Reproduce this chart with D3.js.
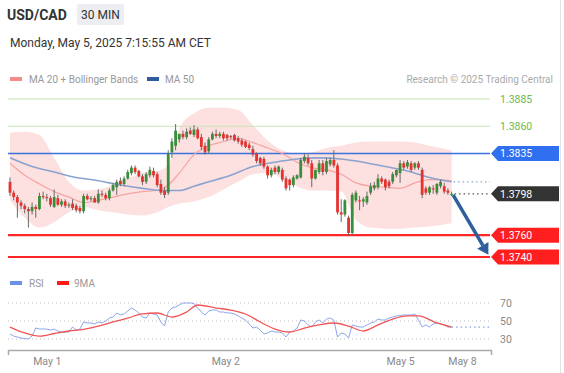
<!DOCTYPE html>
<html>
<head>
<meta charset="utf-8">
<script src="https://cdn.jsdelivr.net/npm/d3@7"></script>
<style>
  body { margin: 0; background: #fff; font-family: Roboto, Arial, sans-serif; }
</style>
</head>
<body>
<div id="chart"></div>
<script>
// 30 min candles, Apr 30 19:00 CET -> May 5 07:00 CET
let open = [
  1.3809,1.3799,1.3795,1.3790,1.3787,1.3784,1.3782,1.3786,1.3784,1.3796,
  1.3795,1.3794,1.3786,1.3794,1.3788,1.3791,1.3787,1.3789,1.3787,1.3785,
  1.3782,1.3796,1.3793,1.3794,1.3790,1.3798,1.3797,1.3794,1.3801,1.3804,
  1.3810,1.3807,1.3812,1.3817,1.3822,1.3819,1.3814,1.3809,1.3815,1.3819,
  1.3816,1.3807,1.3801,1.3799,1.3836,1.3842,1.3848,1.3853,1.3850,1.3856,
  1.3852,1.3857,1.3850,1.3842,1.3837,1.3848,1.3853,1.3851,1.3853,1.3852,
  1.3851,1.3852,1.3849,1.3847,1.3846,1.3843,1.3839,1.3835,1.3831,1.3830,
  1.3823,1.3815,1.3822,1.3818,1.3820,1.3812,1.3811,1.3806,1.3812,1.3813,
  1.3828,1.3831,1.3826,1.3812,1.3818,1.3826,1.3818,1.3825,1.3829,1.3824,
  1.3781,1.3779,1.3776,1.3762,1.3792,1.3792,1.3791,1.3790,1.3799,1.3803,
  1.3804,1.3812,1.3811,1.3809,1.3809,1.3815,1.3817,1.3826,1.3823,1.3826,
  1.3822,1.3826,1.3820,1.3803,1.3799,1.3803,1.3799,1.3805,1.3805,1.3801,
  1.3797]
let high = [
  1.3813,1.3801,1.3797,1.3792,1.3789,1.3786,1.3790,1.3788,1.3799,1.3800,
  1.3798,1.3796,1.3802,1.3797,1.3793,1.3793,1.3790,1.3793,1.3789,1.3787,
  1.3798,1.3798,1.3796,1.3796,1.3802,1.3801,1.3799,1.3803,1.3808,1.3811,
  1.3813,1.3814,1.3820,1.3824,1.3824,1.3820,1.3816,1.3818,1.3823,1.3822,
  1.3818,1.3811,1.3804,1.3838,1.3849,1.3862,1.3853,1.3856,1.3858,1.3859,
  1.3861,1.3859,1.3853,1.3845,1.3850,1.3855,1.3857,1.3855,1.3855,1.3853,
  1.3852,1.3853,1.3851,1.3849,1.3847,1.3845,1.3842,1.3836,1.3832,1.3832,
  1.3824,1.3822,1.3824,1.3824,1.3822,1.3814,1.3812,1.3815,1.3816,1.3831,
  1.3835,1.3834,1.3829,1.3820,1.3829,1.3829,1.3831,1.3831,1.3838,1.3826,
  1.3793,1.3793,1.3778,1.3799,1.3801,1.3796,1.3795,1.3800,1.3808,1.3809,
  1.3816,1.3814,1.3812,1.3811,1.3818,1.3820,1.3829,1.3828,1.3829,1.3828,
  1.3827,1.3828,1.3822,1.3805,1.3805,1.3806,1.3808,1.3811,1.3808,1.3803,
  1.3800]
let low = [
  1.3796,1.3792,1.3776,1.3784,1.3780,1.3767,1.3779,1.3776,1.3783,1.3793,
  1.3791,1.3786,1.3785,1.3787,1.3786,1.3785,1.3785,1.3783,1.3781,1.3780,
  1.3780,1.3792,1.3791,1.3790,1.3789,1.3795,1.3792,1.3792,1.3800,1.3797,
  1.3805,1.3805,1.3811,1.3815,1.3816,1.3813,1.3806,1.3807,1.3813,1.3813,
  1.3804,1.3797,1.3794,1.3797,1.3831,1.3838,1.3845,1.3848,1.3848,1.3852,
  1.3850,1.3848,1.3838,1.3834,1.3835,1.3847,1.3849,1.3849,1.3847,1.3847,
  1.3848,1.3846,1.3844,1.3841,1.3840,1.3838,1.3832,1.3826,1.3824,1.3821,
  1.3812,1.3813,1.3816,1.3816,1.3809,1.3801,1.3801,1.3804,1.3811,1.3812,
  1.3826,1.3824,1.3804,1.3811,1.3816,1.3815,1.3816,1.3823,1.3822,1.3779,
  1.3772,1.3777,1.3760,1.3760,1.3790,1.3783,1.3786,1.3788,1.3797,1.3801,
  1.3802,1.3807,1.3801,1.3803,1.3807,1.3813,1.3808,1.3820,1.3821,1.3818,
  1.3820,1.3820,1.3794,1.3797,1.3797,1.3798,1.3797,1.3803,1.3798,1.3797,
  1.3796]
let close = [
  1.3799,1.3795,1.3790,1.3787,1.3784,1.3782,1.3786,1.3784,1.3796,1.3795,
  1.3794,1.3788,1.3795,1.3788,1.3791,1.3787,1.3788,1.3785,1.3783,1.3782,
  1.3796,1.3793,1.3794,1.3790,1.3798,1.3797,1.3794,1.3801,1.3806,1.3809,
  1.3807,1.3812,1.3818,1.3822,1.3818,1.3814,1.3809,1.3816,1.3820,1.3815,
  1.3806,1.3799,1.3797,1.3835,1.3846,1.3856,1.3853,1.3850,1.3855,1.3853,
  1.3857,1.3849,1.3841,1.3836,1.3848,1.3853,1.3851,1.3853,1.3849,1.3849,
  1.3850,1.3847,1.3846,1.3843,1.3841,1.3840,1.3834,1.3828,1.3826,1.3823,
  1.3815,1.3820,1.3818,1.3823,1.3811,1.3803,1.3806,1.3813,1.3815,1.3829,
  1.3832,1.3826,1.3812,1.3820,1.3826,1.3818,1.3828,1.3829,1.3824,1.3781,
  1.3779,1.3792,1.3762,1.3797,1.3799,1.3791,1.3793,1.3796,1.3805,1.3806,
  1.3812,1.3809,1.3804,1.3805,1.3816,1.3820,1.3826,1.3822,1.3827,1.3820,
  1.3826,1.3822,1.3797,1.3799,1.3804,1.3802,1.3807,1.3809,1.3800,1.3799,
  1.3798]

// MA 20 + Bollinger Bands (read at sampled candles)
let bandIdx = [0,4,8,12,16,20,24,28,32,36,40,43,46,50,54,58,62,66,70,74,78,82,86,90,94,98,102,106,110,114,120]
let bandUpper = [1.3854,1.3855,1.3852,1.3831,1.3809,1.3801,1.3802,1.3806,1.3812,1.3817,1.3819,1.3824,1.3858,1.3872,1.3877,1.3877,
  1.3875,1.3861,1.3847,1.3838,1.3835,1.3836,1.3840,1.3842,1.3845,1.3846,1.3846,1.3846,1.3845,1.3842,1.3838]
let bandLower = [1.3792,1.3776,1.3767,1.3772,1.3781,1.3786,1.3783,1.3781,1.3779,1.3778,1.3781,1.3786,1.3789,1.3791,1.3795,1.3802,
  1.3809,1.3816,1.3817,1.3812,1.3805,1.3801,1.3801,1.3800,1.3774,1.3767,1.3766,1.3766,1.3767,1.3768,1.3771]
let ma20 = [1.3826,1.3815,1.3807,1.3800,1.3795,1.3790,1.3792,1.3795,1.3798,1.3800,1.3801,1.3806,1.3817,1.3834,1.3842,1.3846,
  1.3849,1.3845,1.3840,1.3835,1.3827,1.3822,1.3820,1.3816,1.3808,1.3805,1.3804,1.3803,1.3808,1.3811,1.3810]

// MA 50
let ma50Idx = [0,6,12,18,24,30,36,42,46,50,54,60,66,72,78,84,90,96,102,108,114,120]
let ma50 = [1.3831,1.3823,1.3818,1.3813,1.3810,1.3806,1.3803,1.3801,1.3801,1.3805,1.3809,1.3815,1.3823,1.3827,1.3830,1.3831,
  1.3830,1.3827,1.3823,1.3819,1.3813,1.3809]

// key levels
let levelVals = [1.3885, 1.3860, 1.3835, 1.3798, 1.3760, 1.3740]
let levelKind = ['target', 'target', 'pivot', 'last', 'support', 'support']

// RSI and its 9 period MA
let rsi = [
  35.6,33.3,32.2,31.1,30.6,30.0,33.3,42.2,41.1,41.1,
  41.0,40.0,41.0,38.9,37.8,37.8,37.8,43.3,40.0,41.0,
  48.9,47.8,47.8,46.7,48.9,47.8,50.0,53.3,54.4,58.9,
  56.7,57.8,61.1,64.4,62.2,58.9,54.4,53.3,58.9,57.8,
  56.7,48.9,44.4,60.0,64.4,65.6,67.8,70.0,70.0,70.0,
  69.4,64.4,60.0,56.7,61.1,62.2,62.2,60.0,60.0,58.9,
  58.9,57.8,55.6,53.3,51.1,46.7,42.2,43.3,40.0,35.6,
  36.7,38.9,37.8,37.8,36.7,32.2,37.8,38.9,42.2,51.1,
  50.0,45.6,43.3,48.9,51.1,47.8,52.2,53.3,51.1,32.2,
  36.7,35.6,31.1,45.6,44.4,43.3,43.3,45.6,47.8,48.9,
  52.2,51.1,51.1,53.3,54.4,55.6,56.1,56.7,56.7,56.7,
  57.8,51.1,43.3,45.6,43.3,46.7,47.8,46.7,45.6,43.3,
  43.3]
let rsiMaIdx = [0,4,8,12,16,20,24,28,32,36,40,44,48,51,56,60,64,68,72,76,80,84,88,92,96,100,104,108,111,116,120]
let rsiMa = [43.3,36.7,33.3,36.1,38.9,40.6,44.4,48.9,53.3,57.8,58.9,54.4,60.0,67.8,64.4,62.2,57.8,48.9,41.1,37.8,42.2,
  45.6,47.8,44.4,38.9,45.6,52.2,55.6,55.6,47.8,43.3]
let rsiLevels = [70, 50, 30]

// time axis
let tickIdx = [10, 58.5, 106, 122.8]
let tickLabels = ['May 1', 'May 2', 'May 5', 'May 8']

// projected move (candle index, price)
let arrowFrom = [120.4, 1.3797]
let arrowTo = [130, 1.3742]

let width = 564, height = 373
let plotL = 8, plotR = 490

let svg = d3.select('#chart').append('svg')
    .attr('width', width)
    .attr('height', height)
    .style('display', 'block')

let x = d3.scaleLinear().domain([0, 120]).range([10, 451.6])
let y = d3.scaleLinear().domain([1.3740, 1.3885]).range([257, 99])
let yR = d3.scaleLinear().domain([30, 70]).range([339, 303])

// header
svg.append('text').attr('x', 7).attr('y', 20)
    .style('font-size', '14px').style('font-weight', 'bold').style('fill', '#333')
    .text('USD/CAD')
svg.append('rect').attr('x', 77).attr('y', 4).attr('width', 47).attr('height', 21)
    .attr('rx', 2).style('fill', '#eceef1')
svg.append('text').attr('x', 100.5).attr('y', 19).attr('text-anchor', 'middle')
    .style('font-size', '12px').style('fill', '#333').text('30 MIN')
svg.append('text').attr('x', 10).attr('y', 47)
    .style('font-size', '12px').style('fill', '#333')
    .text('Monday, May 5, 2025 7:15:55 AM CET')

// right border
svg.append('line').attr('x1', 560.5).attr('x2', 560.5).attr('y1', 0).attr('y2', height)
    .style('stroke', '#e2e2e2')

// legend
let leg = svg.append('g').style('font-size', '10px').style('fill', '#999')
leg.append('rect').attr('x', 10).attr('y', 77).attr('width', 12).attr('height', 4).style('fill', '#f38b8b')
leg.append('text').attr('x', 29).attr('y', 82.5).text('MA 20 + Bollinger Bands')
leg.append('rect').attr('x', 147).attr('y', 77).attr('width', 12).attr('height', 4).style('fill', '#2f5c9e')
leg.append('text').attr('x', 165).attr('y', 82.5).text('MA 50')
svg.append('text').attr('x', 553).attr('y', 82.5).attr('text-anchor', 'end')
    .style('font-size', '10px').style('fill', '#aaa')
    .text('Research \u00a9 2025 Trading Central')

// bollinger band
let main = svg.append('g')
main.append('path')
    .datum(bandIdx)
    .attr('d', d3.area()
        .x(function (d) { return x(d) })
        .y0(function (d, i) { return y(bandLower[i]) })
        .y1(function (d, i) { return y(bandUpper[i]) })
        .curve(d3.curveMonotoneX))
    .style('fill', '#fde0e0')

// level lines
let levColor = {target: '#c6e6b3', pivot: '#3b72dc', support: '#ff2626'}
levelVals.forEach(function (v, i) {
    let k = levelKind[i]
    if (k == 'last') return
    main.append('line')
        .attr('x1', plotL).attr('x2', plotR)
        .attr('y1', y(v)).attr('y2', y(v))
        .style('stroke', levColor[k])
        .style('stroke-width', k == 'support' ? 2.2 : (k == 'pivot' ? 1.5 : 1))
})

// MA lines
main.append('path')
    .datum(bandIdx)
    .attr('d', d3.line()
        .x(function (d) { return x(d) })
        .y(function (d, i) { return y(ma20[i]) })
        .curve(d3.curveMonotoneX))
    .style('fill', 'none').style('stroke', '#f6a3a3').style('stroke-width', 1.2)

main.append('path')
    .datum(ma50Idx)
    .attr('d', d3.line()
        .x(function (d) { return x(d) })
        .y(function (d, i) { return y(ma50[i]) })
        .curve(d3.curveMonotoneX))
    .style('fill', 'none').style('stroke', '#8aa3cf').style('stroke-width', 1.6)

main.append('line')
    .attr('x1', x(120) + 2).attr('x2', plotR)
    .attr('y1', y(ma50[ma50.length - 1])).attr('y2', y(ma50[ma50.length - 1]))
    .style('stroke', '#8aa3cf').style('stroke-width', 1.2).style('stroke-dasharray', '1.5,3')

// last price dotted
main.append('line')
    .attr('x1', x(120) + 3).attr('x2', plotR)
    .attr('y1', y(close[close.length - 1])).attr('y2', y(close[close.length - 1]))
    .style('stroke', '#555').style('stroke-width', 1.2).style('stroke-dasharray', '1.5,3')

// candles
let candles = main.selectAll('g.candle')
    .data(d3.range(open.length))
    .enter().append('g')
candles.append('line')
    .attr('x1', function (i) { return x(i) }).attr('x2', function (i) { return x(i) })
    .attr('y1', function (i) { return y(Math.max(high[i], open[i], close[i])) })
    .attr('y2', function (i) { return y(Math.min(low[i], open[i], close[i])) })
    .style('stroke', '#6a6a6a').style('stroke-width', 1)
candles.append('rect')
    .attr('x', function (i) { return x(i) - 1.4 })
    .attr('width', 2.8)
    .attr('y', function (i) { return y(Math.max(open[i], close[i])) })
    .attr('height', function (i) { return Math.max(1, Math.abs(y(open[i]) - y(close[i]))) })
    .style('fill', function (i) { return close[i] >= open[i] ? '#3a8d3a' : '#e4322f' })

// projection arrow
let ax0 = x(arrowFrom[0]), ay0 = y(arrowFrom[1])
let ax1 = x(arrowTo[0]), ay1 = y(arrowTo[1])
let ang = Math.atan2(ay1 - ay0, ax1 - ax0)
let headL = 11, headW = 6.5
let bx = ax1 - headL * Math.cos(ang), by = ay1 - headL * Math.sin(ang)
main.append('line')
    .attr('x1', ax0).attr('y1', ay0).attr('x2', bx).attr('y2', by)
    .style('stroke', '#2f5f9c').style('stroke-width', 3.5)
main.append('path')
    .attr('d', 'M' + ax1 + ',' + ay1 +
        'L' + (bx + headW * Math.sin(ang)) + ',' + (by - headW * Math.cos(ang)) +
        'L' + (bx - headW * Math.sin(ang)) + ',' + (by + headW * Math.cos(ang)) + 'Z')
    .style('fill', '#2f5f9c')

// level labels
let boxColor = {pivot: '#2f6ff0', last: '#333333', support: '#ff1f1f'}
levelVals.forEach(function (v, i) {
    let k = levelKind[i], yy = y(v)
    if (k == 'target') {
        svg.append('text').attr('x', 500).attr('y', yy + 4)
            .style('font-size', '10.5px').style('fill', '#72b84c')
            .text(v.toFixed(4))
        return
    }
    svg.append('path')
        .attr('d', 'M' + (plotR + 1) + ',' + yy + 'L' + 498 + ',' + (yy - 7.5) + 'H559V' + (yy + 7.5) + 'H498Z')
        .style('fill', boxColor[k])
    svg.append('text').attr('x', 500).attr('y', yy + 4)
        .style('font-size', '10.5px').style('fill', '#fff')
        .text(v.toFixed(4))
})

// RSI panel
let rl = svg.append('g').style('font-size', '10px').style('fill', '#999')
rl.append('rect').attr('x', 10).attr('y', 281).attr('width', 12).attr('height', 4).style('fill', '#6d8fe6')
rl.append('text').attr('x', 29).attr('y', 286.5).text('RSI')
rl.append('rect').attr('x', 57).attr('y', 281).attr('width', 12).attr('height', 4).style('fill', '#ff1a1a')
rl.append('text').attr('x', 74).attr('y', 286.5).text('9MA')

rsiLevels.forEach(function (v) {
    svg.append('line').attr('x1', plotL).attr('x2', plotR)
        .attr('y1', yR(v)).attr('y2', yR(v))
        .style('stroke', '#bbb').style('stroke-dasharray', '1,3')
    svg.append('text').attr('x', 500).attr('y', yR(v) + 4)
        .style('font-size', '10.5px').style('fill', '#888').text(v)
})

svg.append('line')
    .attr('x1', x(120)).attr('x2', plotR)
    .attr('y1', yR(rsi[rsi.length - 1])).attr('y2', yR(rsi[rsi.length - 1]))
    .style('stroke', '#8aa4ea').style('stroke-width', 1.2).style('stroke-dasharray', '1.5,3')

svg.append('path')
    .datum(rsi)
    .attr('d', d3.line()
        .x(function (d, i) { return x(i) })
        .y(function (d) { return yR(d) }))
    .style('fill', 'none').style('stroke', '#8ea6ec').style('stroke-width', 1)

svg.append('path')
    .datum(rsiMaIdx)
    .attr('d', d3.line()
        .x(function (d) { return x(d) })
        .y(function (d, i) { return yR(rsiMa[i]) })
        .curve(d3.curveMonotoneX))
    .style('fill', 'none').style('stroke', '#f25555').style('stroke-width', 1.3)

// time axis
let xa = x.copy().domain([x.invert(plotL), x.invert(plotR + 1)]).range([plotL, plotR + 1])
let axis = svg.append('g')
    .attr('transform', 'translate(0,350)')
    .call(d3.axisBottom(xa)
        .tickValues(tickIdx)
        .tickFormat(function (d, i) { return tickLabels[i] })
        .tickSize(0).tickSizeOuter(5).tickPadding(8))
axis.select('.domain').style('stroke', '#aaa').style('stroke-width', 1.5)
axis.selectAll('text').style('font-size', '10.5px').style('fill', '#888')
    .style('font-family', 'Roboto, Arial, sans-serif')
</script>
</body>
</html>
